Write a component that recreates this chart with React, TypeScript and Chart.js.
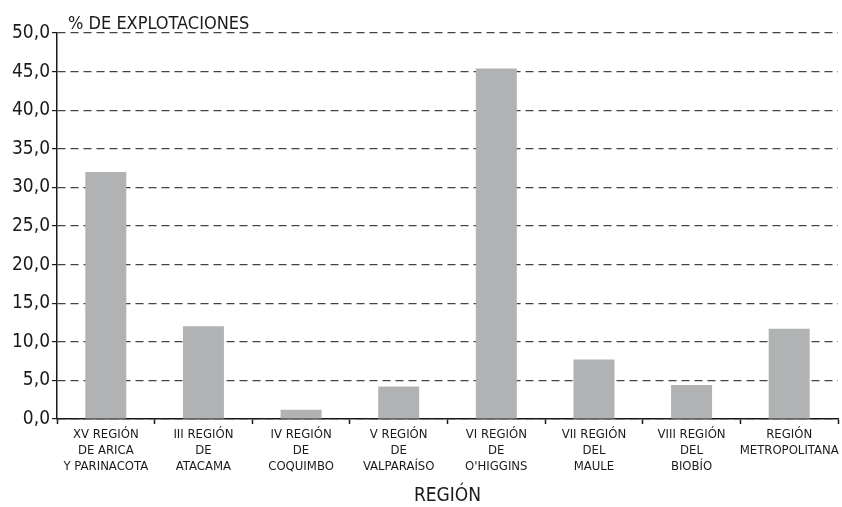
import React, { useEffect, useRef } from "react";
import { Chart, registerables } from "chart.js";

Chart.register(...registerables);

const categories: string[][] = [
  ["XV REGIÓN", "DE ARICA", "Y PARINACOTA"],
  ["III REGIÓN", "DE", "ATACAMA"],
  ["IV REGIÓN", "DE", "COQUIMBO"],
  ["V REGIÓN", "DE", "VALPARAÍSO"],
  ["VI REGIÓN", "DE", "O'HIGGINS"],
  ["VII REGIÓN", "DEL", "MAULE"],
  ["VIII REGIÓN", "DEL", "BIOBÍO"],
  ["REGIÓN", "METROPOLITANA"],
];
const values: number[] = [32.0, 12.0, 1.2, 4.2, 45.4, 7.7, 4.4, 11.7];
const yTitle = "% DE EXPLOTACIONES";
const xTitle = "REGIÓN";

const FONT = "'Liberation Sans Narrow', 'DejaVu Sans Condensed', 'Roboto Condensed', 'Liberation Sans', sans-serif";

const yTitlePlugin = {
  id: "yTitleTop",
  afterDraw(chart: any) {
    const { ctx, chartArea } = chart;
    ctx.save();
    ctx.font = `18px ${FONT}`;
    ctx.fillStyle = "#1a1a1a";
    ctx.textAlign = "left";
    ctx.textBaseline = "alphabetic";
    ctx.fillText(yTitle, chartArea.left + 11, 29);
    ctx.restore();
  },
};

export default function App() {
  const ref = useRef<HTMLCanvasElement>(null);
  useEffect(() => {
    if (!ref.current) return;
    const chart = new Chart(ref.current, {
      type: "bar",
      data: {
        labels: categories,
        datasets: [
          {
            data: values,
            backgroundColor: "#b1b2b4",
            borderWidth: 0,
            barPercentage: 0.42,
            categoryPercentage: 1,
          },
        ],
      },
      options: {
        responsive: false,
        animation: false,
        layout: { padding: { left: 0, right: 4, top: 33, bottom: 0 } },
        plugins: {
          legend: { display: false },
          tooltip: { enabled: false },
        },
        scales: {
          x: {
            offset: true,
            grid: {
              offset: true,
              drawOnChartArea: false,
              drawTicks: true,
              tickLength: 5,
              tickColor: "#1a1a1a",
              tickWidth: 1.5,
            },
            border: { display: true, color: "#1a1a1a", width: 1.5 },
            ticks: {
              color: "#1a1a1a",
              font: { family: FONT, size: 13, lineHeight: 1.22 },
              padding: 3,
              maxRotation: 0,
              autoSkip: false,
            },
            title: {
              display: true,
              text: xTitle,
              color: "#1a1a1a",
              font: { family: FONT, size: 19, lineHeight: 1.0 },
              padding: { top: 0, bottom: 1 },
            },
            afterFit(scale: any) {
              scale.height = 88;
            },
          },
          y: {
            min: 0,
            max: 50,
            ticks: {
              stepSize: 5,
              color: "#1a1a1a",
              font: { family: FONT, size: 19 },
              padding: 2,
              callback: (v: any) => Number(v).toFixed(1).replace(".", ","),
            },
            grid: {
              color: "#444444",
              lineWidth: 1.2,
              drawTicks: true,
              tickLength: 5,
              tickColor: "#1a1a1a",
              tickWidth: 1.2,
              tickBorderDash: [],
            },
            border: { display: true, color: "#1a1a1a", width: 1.5, dash: [8, 5] },
            afterFit(scale: any) {
              scale.width = 57;
            },
          },
        },
      },
      plugins: [yTitlePlugin],
    });
    return () => chart.destroy();
  }, []);
  return (
    <div style={{ position: "fixed", left: 0, top: 0, width: 842, height: 507, background: "#fff" }}>
      <canvas ref={ref} width={842} height={507} style={{ display: "block" }} />
    </div>
  );
}
